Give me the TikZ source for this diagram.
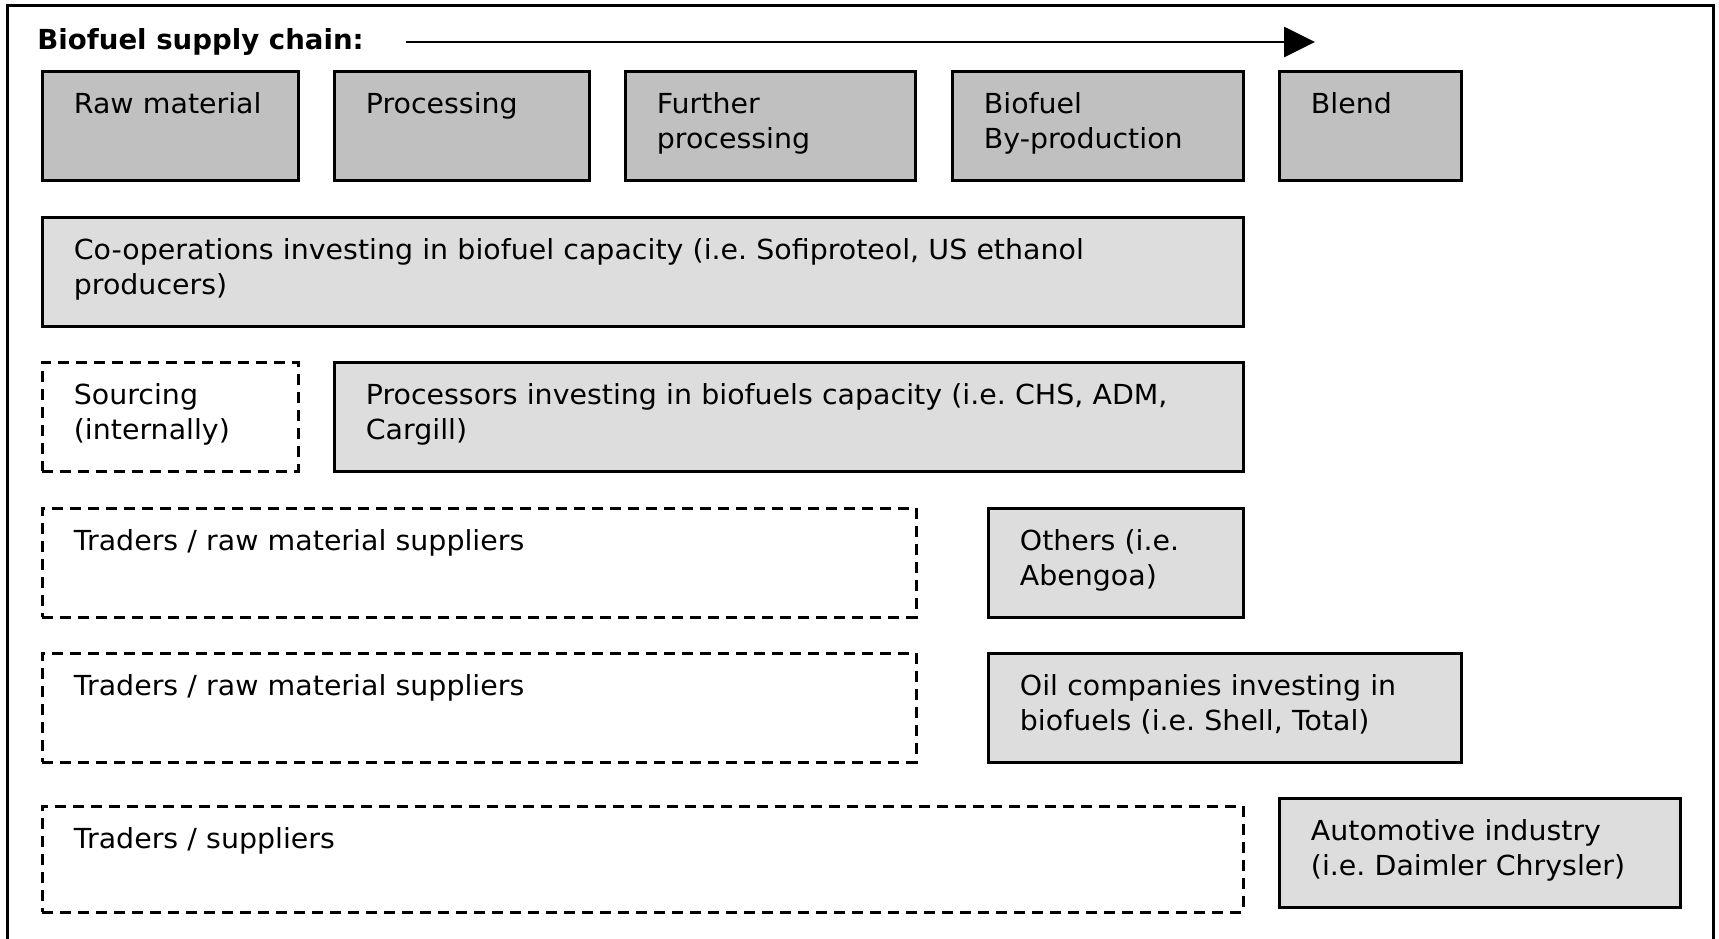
\documentclass[tikz,border=0pt]{standalone}
\usepackage{fontspec}
\setmainfont{DejaVu Sans}[FakeStretch=1.03]
\newfontfamily\titlefont{DejaVu Sans}[FakeStretch=1.0]
\usetikzlibrary{arrows.meta,fit}
\definecolor{darkfill}{HTML}{C0C0C0}
\definecolor{lightfill}{HTML}{DDDDDD}
\frenchspacing
\begin{document}
\begin{tikzpicture}[x=0.5pt,y=-0.5pt,
  frameline/.style={draw=black,line width=1.5pt},
  boxbase/.style={draw=black,line width=1.5pt,inner sep=0pt},
  darkbox/.style={boxbase,fill=darkfill},
  lightbox/.style={boxbase,fill=lightfill},
  dashbox/.style={boxbase,fill=white,dash pattern=on 5.5pt off 3.5pt},
  lbl/.style={anchor=north west,inner sep=0pt,text width=560pt,align=left,
    font=\fontsize{13.8pt}{17.5pt}\selectfont},
  ttl/.style={anchor=base west,inner sep=0pt,font=\titlefont\fontsize{13.8pt}{17.5pt}\selectfont\bfseries}]
\clip (0,0) rectangle (1719,938);
\fill[white] (0,0) rectangle (1719,938);
\draw[frameline] (7,960) -- (7,5) -- (1713,5) -- (1713,960);
% title and arrow
\node[ttl] (title) at (37,49) {Biofuel supply chain:};
\coordinate (arrS) at (406,42);
\coordinate (arrE) at (1315,42);
\draw[line width=1.4pt,-{Triangle[length=15.5pt,width=15pt]}] (arrS) -- (arrE);
% row 1
\node[darkbox,fit={(42,71) (298,180)}] (raw) {};
\node[darkbox,fit={(334,71) (589,180)}] (proc) {};
\node[darkbox,fit={(625,71) (915,180)}] (further) {};
\node[darkbox,fit={(952,71) (1243,180)}] (biofuel) {};
\node[darkbox,fit={(1279,71) (1461,180)}] (blend) {};
% row 2
\node[lightbox,fit={(42,217) (1243,326)}] (coop) {};
% row 3
\node[dashbox,fit={(42,362) (298,471)}] (sourcing) {};
\node[lightbox,fit={(334,362) (1243,471)}] (processors) {};
% row 4
\node[dashbox,fit={(42,508) (916,617)}] (traders1) {};
\node[lightbox,fit={(988,508) (1243,617)}] (others) {};
% row 5
\node[dashbox,fit={(42,653) (916,762)}] (traders2) {};
\node[lightbox,fit={(988,653) (1461,762)}] (oil) {};
% row 6
\node[dashbox,fit={(42,806) (1243,912)}] (traders3) {};
\node[lightbox,fit={(1279,798) (1680,907)}] (auto) {};
% texts
\newcommand\fstrut{\vrule height 12.25pt depth 0pt width 0pt}
\node[lbl] (rawT) at ([shift={(33,19.5)}]raw.north west) {\fstrut Raw material};
\node[lbl] (procT) at ([shift={(33,19.5)}]proc.north west) {\fstrut Processing};
\node[lbl] (furtherT) at ([shift={(33,19.5)}]further.north west) {\fstrut Further\\processing};
\node[lbl] (biofuelT) at ([shift={(33,19.5)}]biofuel.north west) {\fstrut Biofuel\\By-production};
\node[lbl] (blendT) at ([shift={(33,19.5)}]blend.north west) {\fstrut Blend};
\node[lbl] (coopT) at ([shift={(33,19.5)}]coop.north west) {\fstrut Co-operations investing in biofuel capacity (i.e. Sofiproteol, US ethanol\\producers)};
\node[lbl] (sourcingT) at ([shift={(33,19.5)}]sourcing.north west) {\fstrut Sourcing\\(internally)};
\node[lbl] (processorsT) at ([shift={(33,19.5)}]processors.north west) {\fstrut Processors investing in biofuels capacity (i.e. CHS, ADM,\\Cargill)};
\node[lbl] (traders1T) at ([shift={(33,19.5)}]traders1.north west) {\fstrut Traders / raw material suppliers};
\node[lbl] (othersT) at ([shift={(33,19.5)}]others.north west) {\fstrut Others (i.e.\\Abengoa)};
\node[lbl] (traders2T) at ([shift={(33,19.5)}]traders2.north west) {\fstrut Traders / raw material suppliers};
\node[lbl] (oilT) at ([shift={(33,19.5)}]oil.north west) {\fstrut Oil companies investing in\\biofuels (i.e. Shell, Total)};
\node[lbl] (traders3T) at ([shift={(33,19.5)}]traders3.north west) {\fstrut Traders / suppliers};
\node[lbl] (autoT) at ([shift={(33,19.5)}]auto.north west) {\fstrut Automotive industry\\(i.e. Daimler Chrysler)};
\end{tikzpicture}
\end{document}
